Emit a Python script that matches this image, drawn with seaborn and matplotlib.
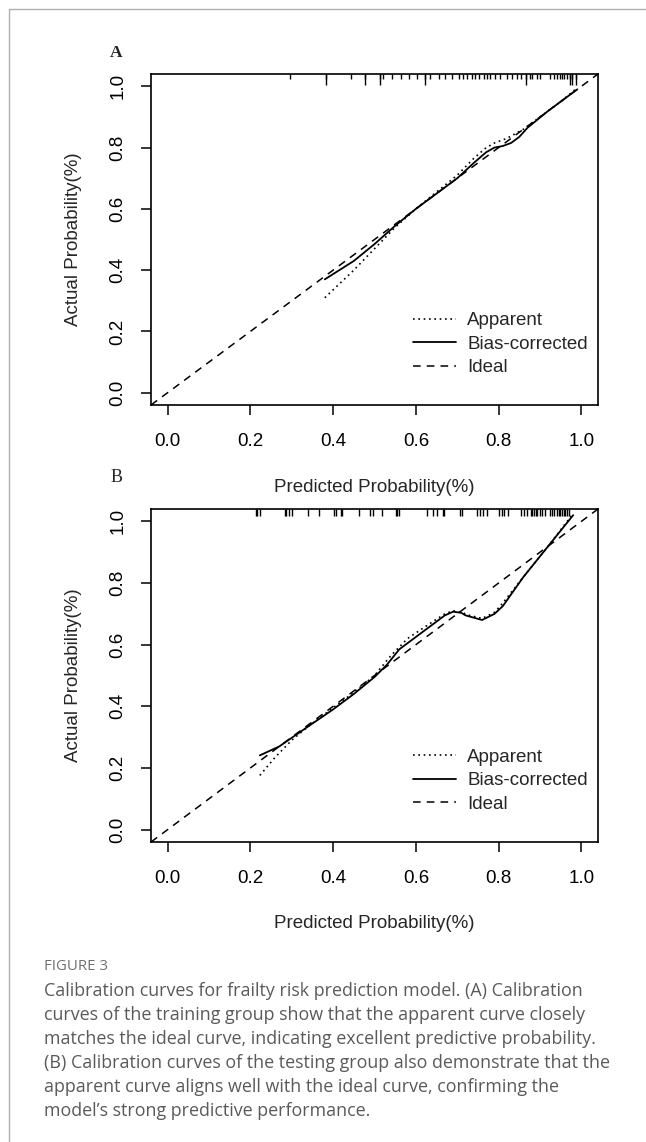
import matplotlib
matplotlib.use('Agg')
import matplotlib.pyplot as plt
from matplotlib.lines import Line2D
import seaborn as sns

#%% Values
# Panel A - training group
a_app_x = [0.38, 0.45, 0.50, 0.55, 0.60, 0.65, 0.70, 0.74, 0.77, 0.79, 0.82, 0.86, 0.90, 0.95, 0.99]
a_app_y = [0.31, 0.40, 0.47, 0.54, 0.60, 0.655, 0.71, 0.765, 0.80, 0.815, 0.83, 0.86, 0.90, 0.95, 0.995]
a_bc_x = [0.38, 0.45, 0.50, 0.55, 0.60, 0.65, 0.70, 0.74, 0.77, 0.79, 0.81, 0.83, 0.85, 0.87, 0.92, 0.99]
a_bc_y = [0.37, 0.43, 0.485, 0.545, 0.60, 0.65, 0.70, 0.75, 0.785, 0.80, 0.805, 0.815, 0.835, 0.865, 0.92, 0.99]

# rug of predicted probabilities (top of panel A)
a_rug = [0.295, 0.382, 0.444, 0.478, 0.513, 0.521, 0.543, 0.563, 0.583, 0.603, 0.621,
         0.634, 0.655, 0.671, 0.688, 0.704, 0.714, 0.724, 0.736, 0.744, 0.752, 0.764,
         0.772, 0.780, 0.792, 0.804, 0.821, 0.833, 0.845, 0.853, 0.865, 0.875, 0.881,
         0.893, 0.901, 0.925, 0.933, 0.941, 0.948, 0.953, 0.959, 0.966, 0.972, 0.978, 0.986]
a_rug_long = [0.382, 0.478, 0.513, 0.621, 0.865, 0.972, 0.978, 0.986]

# Panel B - testing group
b_app_x = [0.223, 0.26, 0.30, 0.34, 0.40, 0.45, 0.50, 0.54, 0.58, 0.63, 0.67, 0.69, 0.71, 0.73, 0.76, 0.79, 0.81, 0.86, 0.92, 0.98]
b_app_y = [0.176, 0.235, 0.29, 0.335, 0.395, 0.445, 0.50, 0.565, 0.62, 0.665, 0.70, 0.71, 0.705, 0.695, 0.685, 0.705, 0.735, 0.82, 0.92, 1.025]
b_bc_x = [0.223, 0.27, 0.34, 0.40, 0.45, 0.50, 0.53, 0.56, 0.60, 0.65, 0.67, 0.69, 0.71, 0.72, 0.76, 0.79, 0.81, 0.86, 0.92, 0.98]
b_bc_y = [0.241, 0.27, 0.335, 0.39, 0.44, 0.495, 0.535, 0.585, 0.625, 0.675, 0.695, 0.707, 0.703, 0.695, 0.68, 0.70, 0.725, 0.82, 0.92, 1.02]

b_rug = [0.213, 0.217, 0.223, 0.284, 0.287, 0.293, 0.300, 0.339, 0.365, 0.403, 0.408,
         0.418, 0.422, 0.462, 0.490, 0.496, 0.518, 0.552, 0.555, 0.559, 0.627, 0.642,
         0.650, 0.666, 0.669, 0.706, 0.712, 0.748, 0.756, 0.763, 0.772, 0.800, 0.808,
         0.814, 0.822, 0.853, 0.861, 0.869, 0.877, 0.881, 0.885, 0.889, 0.893, 0.901,
         0.905, 0.913, 0.925, 0.929, 0.933, 0.941, 0.945, 0.949, 0.953, 0.957, 0.961,
         0.966, 0.970]

tick_vals = [0.0, 0.2, 0.4, 0.6, 0.8, 1.0]
tick_labels = ['0.0', '0.2', '0.4', '0.6', '0.8', '1.0']

caption_head = 'FIGURE 3'
caption_lines = [
    'Calibration curves for frailty risk prediction model. (A) Calibration',
    'curves of the training group show that the apparent curve closely',
    'matches the ideal curve, indicating excellent predictive probability.',
    '(B) Calibration curves of the testing group also demonstrate that the',
    'apparent curve aligns well with the ideal curve, confirming the',
    'model\u2019s strong predictive performance.',
]

#%% Style
sns.set_theme(style='ticks')
plt.rcParams['font.family'] = ['Liberation Sans', 'DejaVu Sans']
plt.rcParams['axes.linewidth'] = 1.2
plt.rcParams['axes.edgecolor'] = 'black'

W, H = 646, 1142
fig = plt.figure(figsize=(W / 100, H / 100), dpi=100)

def px_box(left, top, right, bottom):
    return [left / W, 1 - bottom / H, (right - left) / W, (bottom - top) / H]

ax_a = fig.add_axes(px_box(151, 74, 598, 405))
ax_b = fig.add_axes(px_box(151, 509, 598, 842))

dotted = (0, (1, 2.2))
dashed = (0, (5, 4))
fs = 13.5

def calib_panel(ax, app_x, app_y, bc_x, bc_y, rug, rug_long, rug_h, leg_top, xlab_y):
    sns.lineplot(x=app_x, y=app_y, ax=ax, color='black', lw=1.2,
                 linestyle=dotted, label='Apparent', sort=False)
    sns.lineplot(x=bc_x, y=bc_y, ax=ax, color='black', lw=1.3,
                 label='Bias-corrected', sort=False)
    ax.axline((0, 0), slope=1, color='black', lw=1.1, linestyle=dashed, label='Ideal')

    # rug of predictions along the top border
    trans = ax.get_xaxis_transform()
    ax.vlines(rug, 1 - rug_h, 1, transform=trans, color='black', lw=1.0)
    if rug_long:
        ax.vlines(rug_long, 1 - 0.032, 1, transform=trans, color='black', lw=1.0)

    ax.set_xlim(-0.04, 1.04)
    ax.set_ylim(-0.04, 1.04)
    ax.set_xticks(tick_vals)
    ax.set_xticklabels(tick_labels)
    ax.set_yticks(tick_vals)
    ax.set_yticklabels(tick_labels, rotation=90, va='center')
    ax.tick_params(axis='both', length=7.5, width=1.1, labelsize=fs,
                   color='black', labelcolor='black', direction='out')
    ax.tick_params(axis='x', pad=13)
    ax.tick_params(axis='y', pad=10)
    for s in ax.spines.values():
        s.set_visible(True)
        s.set_color('black')

    ax.set_xlabel('Predicted Probability(%)', fontsize=fs)
    ax.set_ylabel('Actual Probability(%)', fontsize=fs)
    ax.xaxis.set_label_coords(0.5, xlab_y)
    ax.yaxis.set_label_coords(-0.155, 0.5)

    ax.legend(loc='upper left', bbox_to_anchor=(0.586, leg_top), frameon=False,
              fontsize=fs, handlelength=2.3, handletextpad=0.6,
              labelspacing=0.33, borderpad=0, borderaxespad=0)

calib_panel(ax_a, a_app_x, a_app_y, a_bc_x, a_bc_y, a_rug, a_rug_long, 0.016, 0.28, -0.224)
calib_panel(ax_b, b_app_x, b_app_y, b_bc_x, b_bc_y, b_rug, None, 0.022, 0.28, -0.22)

# panel letters
fig.text(116.5 / W, 1 - 53 / H, 'A', ha='center', va='center', fontsize=12.5,
         family='Liberation Serif', weight='bold')
fig.text(116.5 / W, 1 - 477 / H, 'B', ha='center', va='center', fontsize=13,
         family='Liberation Serif')

# page frame lines
fig.add_artist(Line2D([9 / W, 9 / W], [0, 1 - 9 / H], color='#b0b0b0', lw=1))
fig.add_artist(Line2D([9 / W, 1], [1 - 9 / H, 1 - 9 / H], color='#b0b0b0', lw=1))

# caption
fig.text(44 / W, 1 - 967 / H, caption_head, ha='left', va='center', fontsize=10.8,
         family='Open Sans', color='#707070')
for i, line in enumerate(caption_lines):
    fig.text(44 / W, 1 - (991 + 24 * i) / H, line, ha='left', va='center',
             fontsize=12.9, family='Open Sans', color='#5a5a5a')

fig.savefig('out.png', dpi=100)
